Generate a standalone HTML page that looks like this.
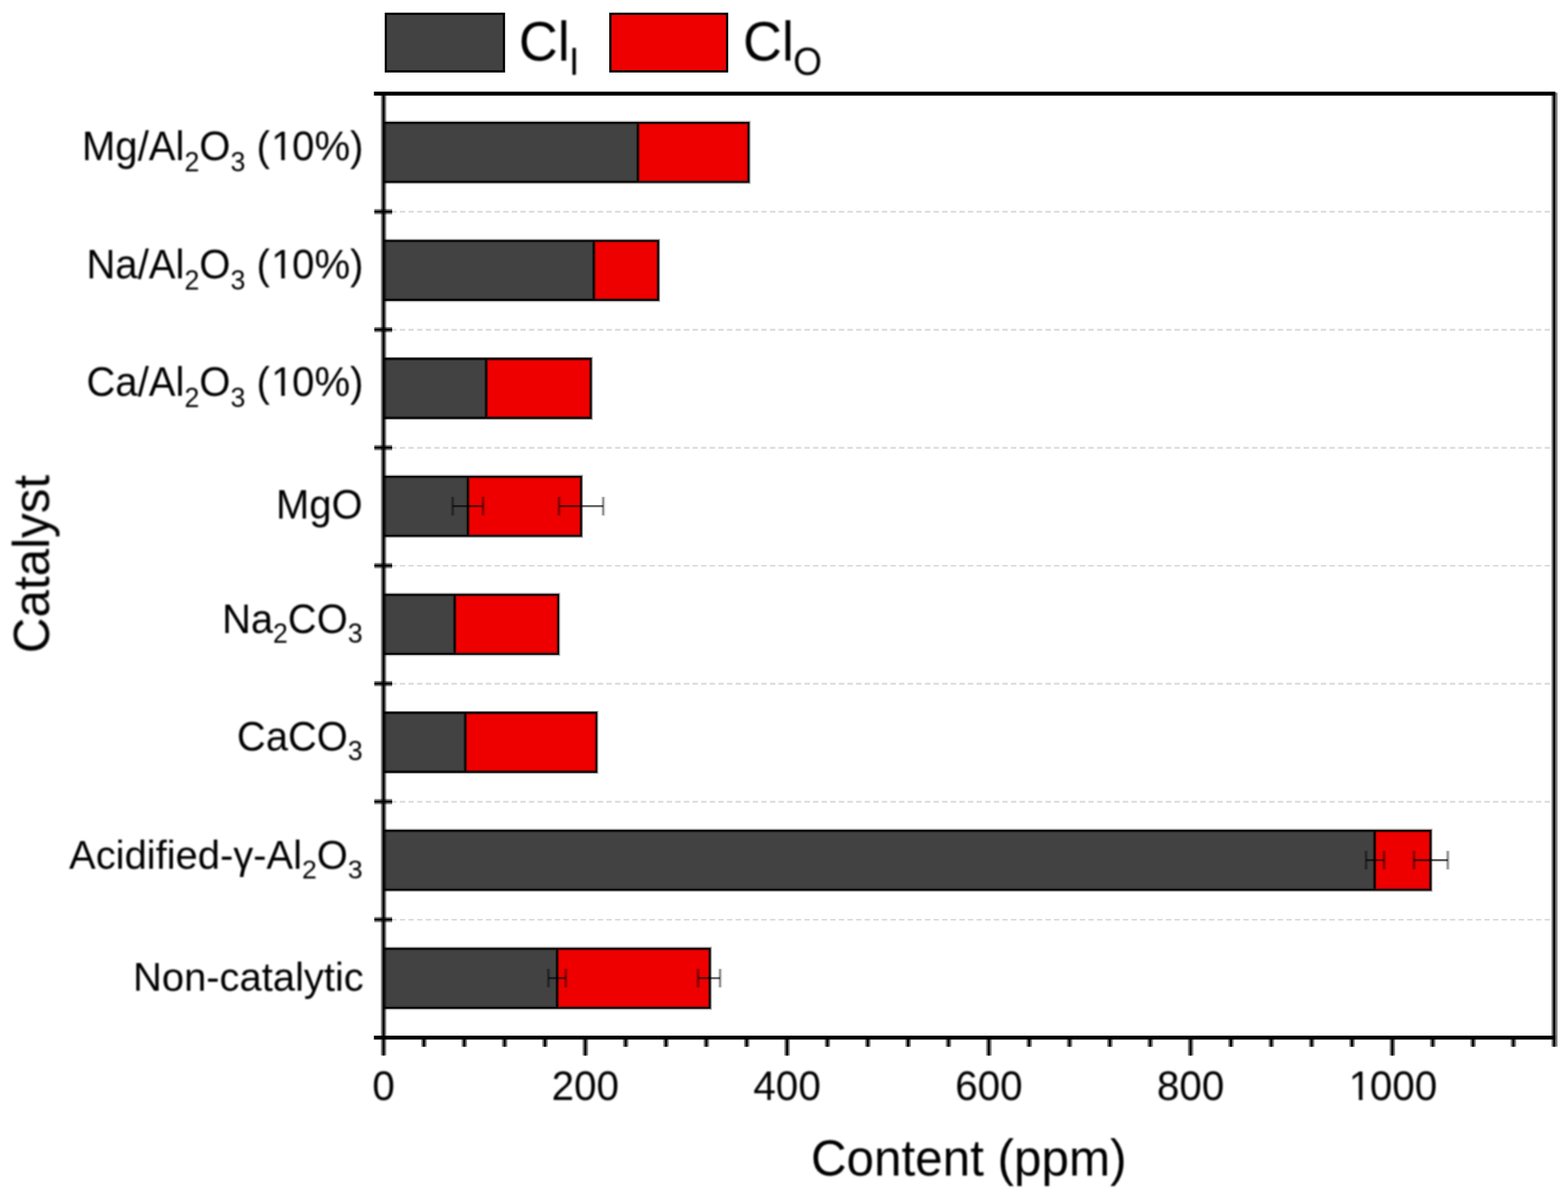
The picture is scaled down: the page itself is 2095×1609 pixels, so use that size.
<!DOCTYPE html>
<html lang="en"><head><meta charset="utf-8"><title>Chart</title>
<style>html,body{margin:0;padding:0;background:#fff;width:2095px;height:1609px;overflow:hidden;}svg{display:block;}text{font-family:"Liberation Sans", sans-serif;fill:#000;}</style></head><body>
<svg width="2095" height="1609" viewBox="0 0 2095 1609">
<rect x="0" y="0" width="2095" height="1609" fill="#fff"/>
<defs><filter id="soft" x="0" y="0" width="2095" height="1609" filterUnits="userSpaceOnUse" color-interpolation-filters="sRGB"><feGaussianBlur stdDeviation="0.80"/></filter></defs>
<g stroke="#dbdbdb" stroke-width="2.4" stroke-dasharray="7.2 4.3" fill="none">
<line x1="522.75" y1="283.07" x2="2074.00" y2="283.07"/>
<line x1="522.75" y1="440.75" x2="2074.00" y2="440.75"/>
<line x1="522.75" y1="598.43" x2="2074.00" y2="598.43"/>
<line x1="522.75" y1="756.10" x2="2074.00" y2="756.10"/>
<line x1="522.75" y1="913.77" x2="2074.00" y2="913.77"/>
<line x1="522.75" y1="1071.45" x2="2074.00" y2="1071.45"/>
<line x1="522.75" y1="1229.12" x2="2074.00" y2="1229.12"/>
</g>
<rect x="512.50" y="164.04" width="339.80" height="79.20" fill="#424242"/>
<rect x="852.30" y="164.04" width="148.00" height="79.20" fill="#ee0000"/>
<path d="M512.50 164.04H1000.30V243.24H512.50M852.30 164.04V243.24" fill="none" stroke="#000" stroke-width="5.0" stroke-opacity="0.35"/>
<path d="M512.50 164.04H1000.30V243.24H512.50M852.30 164.04V243.24" fill="none" stroke="#000" stroke-width="2.1" stroke-opacity="1.00"/>
<rect x="512.50" y="321.71" width="280.90" height="79.20" fill="#424242"/>
<rect x="793.40" y="321.71" width="86.10" height="79.20" fill="#ee0000"/>
<path d="M512.50 321.71H879.50V400.91H512.50M793.40 321.71V400.91" fill="none" stroke="#000" stroke-width="5.0" stroke-opacity="0.35"/>
<path d="M512.50 321.71H879.50V400.91H512.50M793.40 321.71V400.91" fill="none" stroke="#000" stroke-width="2.1" stroke-opacity="1.00"/>
<rect x="512.50" y="479.39" width="137.10" height="79.20" fill="#424242"/>
<rect x="649.60" y="479.39" width="139.90" height="79.20" fill="#ee0000"/>
<path d="M512.50 479.39H789.50V558.59H512.50M649.60 479.39V558.59" fill="none" stroke="#000" stroke-width="5.0" stroke-opacity="0.35"/>
<path d="M512.50 479.39H789.50V558.59H512.50M649.60 479.39V558.59" fill="none" stroke="#000" stroke-width="2.1" stroke-opacity="1.00"/>
<rect x="512.50" y="637.06" width="112.70" height="79.20" fill="#424242"/>
<rect x="625.20" y="637.06" width="151.30" height="79.20" fill="#ee0000"/>
<path d="M512.50 637.06H776.50V716.26H512.50M625.20 637.06V716.26" fill="none" stroke="#000" stroke-width="5.0" stroke-opacity="0.35"/>
<path d="M512.50 637.06H776.50V716.26H512.50M625.20 637.06V716.26" fill="none" stroke="#000" stroke-width="2.1" stroke-opacity="1.00"/>
<rect x="512.50" y="794.74" width="95.00" height="79.20" fill="#424242"/>
<rect x="607.50" y="794.74" width="138.50" height="79.20" fill="#ee0000"/>
<path d="M512.50 794.74H746.00V873.94H512.50M607.50 794.74V873.94" fill="none" stroke="#000" stroke-width="5.0" stroke-opacity="0.35"/>
<path d="M512.50 794.74H746.00V873.94H512.50M607.50 794.74V873.94" fill="none" stroke="#000" stroke-width="2.1" stroke-opacity="1.00"/>
<rect x="512.50" y="952.41" width="109.20" height="79.20" fill="#424242"/>
<rect x="621.70" y="952.41" width="175.30" height="79.20" fill="#ee0000"/>
<path d="M512.50 952.41H797.00V1031.61H512.50M621.70 952.41V1031.61" fill="none" stroke="#000" stroke-width="5.0" stroke-opacity="0.35"/>
<path d="M512.50 952.41H797.00V1031.61H512.50M621.70 952.41V1031.61" fill="none" stroke="#000" stroke-width="2.1" stroke-opacity="1.00"/>
<rect x="512.50" y="1110.09" width="1324.20" height="79.20" fill="#424242"/>
<rect x="1836.70" y="1110.09" width="74.80" height="79.20" fill="#ee0000"/>
<path d="M512.50 1110.09H1911.50V1189.29H512.50M1836.70 1110.09V1189.29" fill="none" stroke="#000" stroke-width="5.0" stroke-opacity="0.35"/>
<path d="M512.50 1110.09H1911.50V1189.29H512.50M1836.70 1110.09V1189.29" fill="none" stroke="#000" stroke-width="2.1" stroke-opacity="1.00"/>
<rect x="512.50" y="1267.76" width="231.90" height="79.20" fill="#424242"/>
<rect x="744.40" y="1267.76" width="204.10" height="79.20" fill="#ee0000"/>
<path d="M512.50 1267.76H948.50V1346.96H512.50M744.40 1267.76V1346.96" fill="none" stroke="#000" stroke-width="5.0" stroke-opacity="0.35"/>
<path d="M512.50 1267.76H948.50V1346.96H512.50M744.40 1267.76V1346.96" fill="none" stroke="#000" stroke-width="2.1" stroke-opacity="1.00"/>
<g stroke="#000" stroke-opacity="0.62" fill="none">
<line x1="604.80" y1="676.46" x2="645.50" y2="676.46" stroke-width="2.8"/>
<line x1="604.80" y1="663.86" x2="604.80" y2="689.06" stroke-width="5" stroke-opacity="0.2"/>
<line x1="604.80" y1="664.46" x2="604.80" y2="688.46" stroke-width="2" stroke-opacity="0.3"/>
<line x1="645.50" y1="663.86" x2="645.50" y2="689.06" stroke-width="5" stroke-opacity="0.2"/>
<line x1="645.50" y1="664.46" x2="645.50" y2="688.46" stroke-width="2" stroke-opacity="0.3"/>
<line x1="747.00" y1="676.46" x2="806.00" y2="676.46" stroke-width="2.8"/>
<line x1="747.00" y1="663.86" x2="747.00" y2="689.06" stroke-width="5" stroke-opacity="0.2"/>
<line x1="747.00" y1="664.46" x2="747.00" y2="688.46" stroke-width="2" stroke-opacity="0.3"/>
<line x1="806.00" y1="663.86" x2="806.00" y2="689.06" stroke-width="5" stroke-opacity="0.2"/>
<line x1="806.00" y1="664.46" x2="806.00" y2="688.46" stroke-width="2" stroke-opacity="0.3"/>
<line x1="1825.20" y1="1149.49" x2="1849.30" y2="1149.49" stroke-width="2.8"/>
<line x1="1825.20" y1="1136.89" x2="1825.20" y2="1162.09" stroke-width="5" stroke-opacity="0.2"/>
<line x1="1825.20" y1="1137.49" x2="1825.20" y2="1161.49" stroke-width="2" stroke-opacity="0.3"/>
<line x1="1849.30" y1="1136.89" x2="1849.30" y2="1162.09" stroke-width="5" stroke-opacity="0.2"/>
<line x1="1849.30" y1="1137.49" x2="1849.30" y2="1161.49" stroke-width="2" stroke-opacity="0.3"/>
<line x1="1889.20" y1="1149.49" x2="1934.40" y2="1149.49" stroke-width="2.8"/>
<line x1="1889.20" y1="1136.89" x2="1889.20" y2="1162.09" stroke-width="5" stroke-opacity="0.2"/>
<line x1="1889.20" y1="1137.49" x2="1889.20" y2="1161.49" stroke-width="2" stroke-opacity="0.3"/>
<line x1="1934.40" y1="1136.89" x2="1934.40" y2="1162.09" stroke-width="5" stroke-opacity="0.2"/>
<line x1="1934.40" y1="1137.49" x2="1934.40" y2="1161.49" stroke-width="2" stroke-opacity="0.3"/>
<line x1="732.70" y1="1307.16" x2="755.90" y2="1307.16" stroke-width="2.8"/>
<line x1="732.70" y1="1294.56" x2="732.70" y2="1319.76" stroke-width="5" stroke-opacity="0.2"/>
<line x1="732.70" y1="1295.16" x2="732.70" y2="1319.16" stroke-width="2" stroke-opacity="0.3"/>
<line x1="755.90" y1="1294.56" x2="755.90" y2="1319.76" stroke-width="5" stroke-opacity="0.2"/>
<line x1="755.90" y1="1295.16" x2="755.90" y2="1319.16" stroke-width="2" stroke-opacity="0.3"/>
<line x1="932.70" y1="1307.16" x2="962.10" y2="1307.16" stroke-width="2.8"/>
<line x1="932.70" y1="1294.56" x2="932.70" y2="1319.76" stroke-width="5" stroke-opacity="0.2"/>
<line x1="932.70" y1="1295.16" x2="932.70" y2="1319.16" stroke-width="2" stroke-opacity="0.3"/>
<line x1="962.10" y1="1294.56" x2="962.10" y2="1319.76" stroke-width="5" stroke-opacity="0.2"/>
<line x1="962.10" y1="1295.16" x2="962.10" y2="1319.16" stroke-width="2" stroke-opacity="0.3"/>
</g>
<g fill="none">
<line x1="566.41" y1="1386.60" x2="566.41" y2="1398.80" stroke="#000" stroke-opacity="0.5" stroke-width="7.30"/>
<line x1="566.41" y1="1386.60" x2="566.41" y2="1398.80" stroke="#000" stroke-width="2.70"/>
<line x1="620.32" y1="1386.60" x2="620.32" y2="1398.80" stroke="#000" stroke-opacity="0.5" stroke-width="7.30"/>
<line x1="620.32" y1="1386.60" x2="620.32" y2="1398.80" stroke="#000" stroke-width="2.70"/>
<line x1="674.24" y1="1386.60" x2="674.24" y2="1398.80" stroke="#000" stroke-opacity="0.5" stroke-width="7.30"/>
<line x1="674.24" y1="1386.60" x2="674.24" y2="1398.80" stroke="#000" stroke-width="2.70"/>
<line x1="728.15" y1="1386.60" x2="728.15" y2="1398.80" stroke="#000" stroke-opacity="0.5" stroke-width="7.30"/>
<line x1="728.15" y1="1386.60" x2="728.15" y2="1398.80" stroke="#000" stroke-width="2.70"/>
<line x1="782.06" y1="1386.60" x2="782.06" y2="1410.60" stroke="#000" stroke-opacity="0.5" stroke-width="7.30"/>
<line x1="782.06" y1="1386.60" x2="782.06" y2="1410.60" stroke="#000" stroke-width="2.70"/>
<line x1="835.97" y1="1386.60" x2="835.97" y2="1398.80" stroke="#000" stroke-opacity="0.5" stroke-width="7.30"/>
<line x1="835.97" y1="1386.60" x2="835.97" y2="1398.80" stroke="#000" stroke-width="2.70"/>
<line x1="889.88" y1="1386.60" x2="889.88" y2="1398.80" stroke="#000" stroke-opacity="0.5" stroke-width="7.30"/>
<line x1="889.88" y1="1386.60" x2="889.88" y2="1398.80" stroke="#000" stroke-width="2.70"/>
<line x1="943.80" y1="1386.60" x2="943.80" y2="1398.80" stroke="#000" stroke-opacity="0.5" stroke-width="7.30"/>
<line x1="943.80" y1="1386.60" x2="943.80" y2="1398.80" stroke="#000" stroke-width="2.70"/>
<line x1="997.71" y1="1386.60" x2="997.71" y2="1398.80" stroke="#000" stroke-opacity="0.5" stroke-width="7.30"/>
<line x1="997.71" y1="1386.60" x2="997.71" y2="1398.80" stroke="#000" stroke-width="2.70"/>
<line x1="1051.62" y1="1386.60" x2="1051.62" y2="1410.60" stroke="#000" stroke-opacity="0.5" stroke-width="7.30"/>
<line x1="1051.62" y1="1386.60" x2="1051.62" y2="1410.60" stroke="#000" stroke-width="2.70"/>
<line x1="1105.53" y1="1386.60" x2="1105.53" y2="1398.80" stroke="#000" stroke-opacity="0.5" stroke-width="7.30"/>
<line x1="1105.53" y1="1386.60" x2="1105.53" y2="1398.80" stroke="#000" stroke-width="2.70"/>
<line x1="1159.44" y1="1386.60" x2="1159.44" y2="1398.80" stroke="#000" stroke-opacity="0.5" stroke-width="7.30"/>
<line x1="1159.44" y1="1386.60" x2="1159.44" y2="1398.80" stroke="#000" stroke-width="2.70"/>
<line x1="1213.36" y1="1386.60" x2="1213.36" y2="1398.80" stroke="#000" stroke-opacity="0.5" stroke-width="7.30"/>
<line x1="1213.36" y1="1386.60" x2="1213.36" y2="1398.80" stroke="#000" stroke-width="2.70"/>
<line x1="1267.27" y1="1386.60" x2="1267.27" y2="1398.80" stroke="#000" stroke-opacity="0.5" stroke-width="7.30"/>
<line x1="1267.27" y1="1386.60" x2="1267.27" y2="1398.80" stroke="#000" stroke-width="2.70"/>
<line x1="1321.18" y1="1386.60" x2="1321.18" y2="1410.60" stroke="#000" stroke-opacity="0.5" stroke-width="7.30"/>
<line x1="1321.18" y1="1386.60" x2="1321.18" y2="1410.60" stroke="#000" stroke-width="2.70"/>
<line x1="1375.09" y1="1386.60" x2="1375.09" y2="1398.80" stroke="#000" stroke-opacity="0.5" stroke-width="7.30"/>
<line x1="1375.09" y1="1386.60" x2="1375.09" y2="1398.80" stroke="#000" stroke-width="2.70"/>
<line x1="1429.00" y1="1386.60" x2="1429.00" y2="1398.80" stroke="#000" stroke-opacity="0.5" stroke-width="7.30"/>
<line x1="1429.00" y1="1386.60" x2="1429.00" y2="1398.80" stroke="#000" stroke-width="2.70"/>
<line x1="1482.92" y1="1386.60" x2="1482.92" y2="1398.80" stroke="#000" stroke-opacity="0.5" stroke-width="7.30"/>
<line x1="1482.92" y1="1386.60" x2="1482.92" y2="1398.80" stroke="#000" stroke-width="2.70"/>
<line x1="1536.83" y1="1386.60" x2="1536.83" y2="1398.80" stroke="#000" stroke-opacity="0.5" stroke-width="7.30"/>
<line x1="1536.83" y1="1386.60" x2="1536.83" y2="1398.80" stroke="#000" stroke-width="2.70"/>
<line x1="1590.74" y1="1386.60" x2="1590.74" y2="1410.60" stroke="#000" stroke-opacity="0.5" stroke-width="7.30"/>
<line x1="1590.74" y1="1386.60" x2="1590.74" y2="1410.60" stroke="#000" stroke-width="2.70"/>
<line x1="1644.65" y1="1386.60" x2="1644.65" y2="1398.80" stroke="#000" stroke-opacity="0.5" stroke-width="7.30"/>
<line x1="1644.65" y1="1386.60" x2="1644.65" y2="1398.80" stroke="#000" stroke-width="2.70"/>
<line x1="1698.56" y1="1386.60" x2="1698.56" y2="1398.80" stroke="#000" stroke-opacity="0.5" stroke-width="7.30"/>
<line x1="1698.56" y1="1386.60" x2="1698.56" y2="1398.80" stroke="#000" stroke-width="2.70"/>
<line x1="1752.48" y1="1386.60" x2="1752.48" y2="1398.80" stroke="#000" stroke-opacity="0.5" stroke-width="7.30"/>
<line x1="1752.48" y1="1386.60" x2="1752.48" y2="1398.80" stroke="#000" stroke-width="2.70"/>
<line x1="1806.39" y1="1386.60" x2="1806.39" y2="1398.80" stroke="#000" stroke-opacity="0.5" stroke-width="7.30"/>
<line x1="1806.39" y1="1386.60" x2="1806.39" y2="1398.80" stroke="#000" stroke-width="2.70"/>
<line x1="1860.30" y1="1386.60" x2="1860.30" y2="1410.60" stroke="#000" stroke-opacity="0.5" stroke-width="7.30"/>
<line x1="1860.30" y1="1386.60" x2="1860.30" y2="1410.60" stroke="#000" stroke-width="2.70"/>
<line x1="1914.21" y1="1386.60" x2="1914.21" y2="1398.80" stroke="#000" stroke-opacity="0.5" stroke-width="7.30"/>
<line x1="1914.21" y1="1386.60" x2="1914.21" y2="1398.80" stroke="#000" stroke-width="2.70"/>
<line x1="1968.12" y1="1386.60" x2="1968.12" y2="1398.80" stroke="#000" stroke-opacity="0.5" stroke-width="7.30"/>
<line x1="1968.12" y1="1386.60" x2="1968.12" y2="1398.80" stroke="#000" stroke-width="2.70"/>
<line x1="2022.04" y1="1386.60" x2="2022.04" y2="1398.80" stroke="#000" stroke-opacity="0.5" stroke-width="7.30"/>
<line x1="2022.04" y1="1386.60" x2="2022.04" y2="1398.80" stroke="#000" stroke-width="2.70"/>
<line x1="500.20" y1="282.88" x2="524.00" y2="282.88" stroke="#000" stroke-opacity="0.5" stroke-width="7.10"/>
<line x1="500.20" y1="282.88" x2="524.00" y2="282.88" stroke="#000" stroke-width="2.60"/>
<line x1="500.20" y1="440.55" x2="524.00" y2="440.55" stroke="#000" stroke-opacity="0.5" stroke-width="7.10"/>
<line x1="500.20" y1="440.55" x2="524.00" y2="440.55" stroke="#000" stroke-width="2.60"/>
<line x1="500.20" y1="598.23" x2="524.00" y2="598.23" stroke="#000" stroke-opacity="0.5" stroke-width="7.10"/>
<line x1="500.20" y1="598.23" x2="524.00" y2="598.23" stroke="#000" stroke-width="2.60"/>
<line x1="500.20" y1="755.90" x2="524.00" y2="755.90" stroke="#000" stroke-opacity="0.5" stroke-width="7.10"/>
<line x1="500.20" y1="755.90" x2="524.00" y2="755.90" stroke="#000" stroke-width="2.60"/>
<line x1="500.20" y1="913.57" x2="524.00" y2="913.57" stroke="#000" stroke-opacity="0.5" stroke-width="7.10"/>
<line x1="500.20" y1="913.57" x2="524.00" y2="913.57" stroke="#000" stroke-width="2.60"/>
<line x1="500.20" y1="1071.25" x2="524.00" y2="1071.25" stroke="#000" stroke-opacity="0.5" stroke-width="7.10"/>
<line x1="500.20" y1="1071.25" x2="524.00" y2="1071.25" stroke="#000" stroke-width="2.60"/>
<line x1="500.20" y1="1228.92" x2="524.00" y2="1228.92" stroke="#000" stroke-opacity="0.5" stroke-width="7.10"/>
<line x1="500.20" y1="1228.92" x2="524.00" y2="1228.92" stroke="#000" stroke-width="2.60"/>
<line x1="512.50" y1="125.20" x2="512.50" y2="1410.60" stroke="#000" stroke-opacity="0.5" stroke-width="7.30"/>
<line x1="512.50" y1="125.20" x2="512.50" y2="1410.60" stroke="#000" stroke-width="2.70"/>
<line x1="2076.95" y1="123.70" x2="2076.95" y2="1398.8" stroke="#000" stroke-opacity="0.5" stroke-width="8"/>
<line x1="2076.6" y1="123.20" x2="2076.6" y2="1398.8" stroke="#000" stroke-width="2.8"/>
<line x1="499.6" y1="125.20" x2="2078.20" y2="125.20" stroke="#000" stroke-width="5.2"/>
<line x1="499.6" y1="1386.60" x2="2078.20" y2="1386.60" stroke="#000" stroke-width="5.2"/>
</g>
<rect x="515.5" y="18.4" width="157.8" height="77" fill="#424242" stroke="#000" stroke-width="3"/>
<rect x="815.5" y="18.4" width="156" height="77" fill="#ee0000" stroke="#000" stroke-width="3"/>
<g filter="url(#soft)">
<text transform="translate(693.30 81.00) scale(1.0000 1.0400)" font-size="72" text-anchor="start" xml:space="preserve">Cl<tspan font-size="49.5" dx="-1" dy="18.4">I</tspan></text>
<text transform="translate(992.70 81.00) scale(1.0000 1.0400)" font-size="72" text-anchor="start" xml:space="preserve">Cl<tspan font-size="49.5" dx="-1" dy="18.4">O</tspan></text>
<text transform="translate(485.60 214.00) scale(0.9920 1.0350)" font-size="54" text-anchor="end" xml:space="preserve">Mg/Al<tspan font-size="36" dy="14.60">2</tspan><tspan dy="-14.60">O</tspan><tspan font-size="36" dy="14.60">3</tspan><tspan dy="-14.60" dx="0 0 1.8 -1.8"> (10%)</tspan></text>
<text transform="translate(485.60 372.00) scale(0.9920 1.0350)" font-size="54" text-anchor="end" xml:space="preserve">Na/Al<tspan font-size="36" dy="14.60">2</tspan><tspan dy="-14.60">O</tspan><tspan font-size="36" dy="14.60">3</tspan><tspan dy="-14.60" dx="0 0 1.8 -1.8"> (10%)</tspan></text>
<text transform="translate(485.60 529.00) scale(0.9920 1.0350)" font-size="54" text-anchor="end" xml:space="preserve">Ca/Al<tspan font-size="36" dy="14.60">2</tspan><tspan dy="-14.60">O</tspan><tspan font-size="36" dy="14.60">3</tspan><tspan dy="-14.60" dx="0 0 1.8 -1.8"> (10%)</tspan></text>
<text transform="translate(484.40 693.00) scale(0.9880 1.0350)" font-size="54" text-anchor="end" xml:space="preserve">MgO</text>
<text transform="translate(484.40 846.00) scale(0.9880 1.0350)" font-size="54" text-anchor="end" xml:space="preserve">Na<tspan font-size="36" dy="12.85">2</tspan><tspan dy="-12.85">CO</tspan><tspan font-size="36" dy="12.85">3</tspan></text>
<text transform="translate(484.60 1003.00) scale(0.9880 1.0350)" font-size="54" text-anchor="end" xml:space="preserve">CaCO<tspan font-size="36" dy="12.85">3</tspan></text>
<text transform="translate(484.60 1161.00) scale(0.9880 1.0000)" font-size="54" text-anchor="end" xml:space="preserve">Acidified-γ-Al<tspan font-size="36" dy="13.30">2</tspan><tspan dy="-13.30">O</tspan><tspan font-size="36" dy="13.30">3</tspan></text>
<text transform="translate(486.00 1324.00) scale(0.9880 1.0000)" font-size="54" text-anchor="end" xml:space="preserve">Non-catalytic</text>
<text transform="translate(512.50 1470.00) scale(1.0000 1.0400)" font-size="54" text-anchor="middle" xml:space="preserve">0</text>
<text transform="translate(782.06 1470.00) scale(1.0000 1.0400)" font-size="54" text-anchor="middle" xml:space="preserve">200</text>
<text transform="translate(1051.62 1470.00) scale(1.0000 1.0400)" font-size="54" text-anchor="middle" xml:space="preserve">400</text>
<text transform="translate(1321.18 1470.00) scale(1.0000 1.0400)" font-size="54" text-anchor="middle" xml:space="preserve">600</text>
<text transform="translate(1590.74 1470.00) scale(1.0000 1.0400)" font-size="54" text-anchor="middle" xml:space="preserve">800</text>
<text transform="translate(1800.24 1470.00) scale(1.0000 1.0400)" font-size="54" text-anchor="start" dx="1.8 -1.8" xml:space="preserve">1000</text>
<text transform="translate(1294.30 1571.00) scale(1.0000 1.0300)" font-size="66" text-anchor="middle" xml:space="preserve">Content (ppm)</text>
<text transform="translate(65.30 753.70) rotate(-90) scale(1.0000 1.0300)" font-size="66" text-anchor="middle" xml:space="preserve">Catalyst</text>
<rect x="364.81" y="208.33" width="10.99" height="7.77" fill="#fff"/>
<rect x="380.54" y="208.33" width="10.57" height="7.77" fill="#fff"/>
<rect x="364.81" y="366.33" width="10.99" height="7.77" fill="#fff"/>
<rect x="380.54" y="366.33" width="10.57" height="7.77" fill="#fff"/>
<rect x="364.81" y="523.33" width="10.99" height="7.77" fill="#fff"/>
<rect x="380.54" y="523.33" width="10.57" height="7.77" fill="#fff"/>
<rect x="1804.55" y="1464.30" width="11.07" height="7.80" fill="#fff"/>
<rect x="1820.39" y="1464.30" width="10.64" height="7.80" fill="#fff"/>
</g>
</svg></body></html>
